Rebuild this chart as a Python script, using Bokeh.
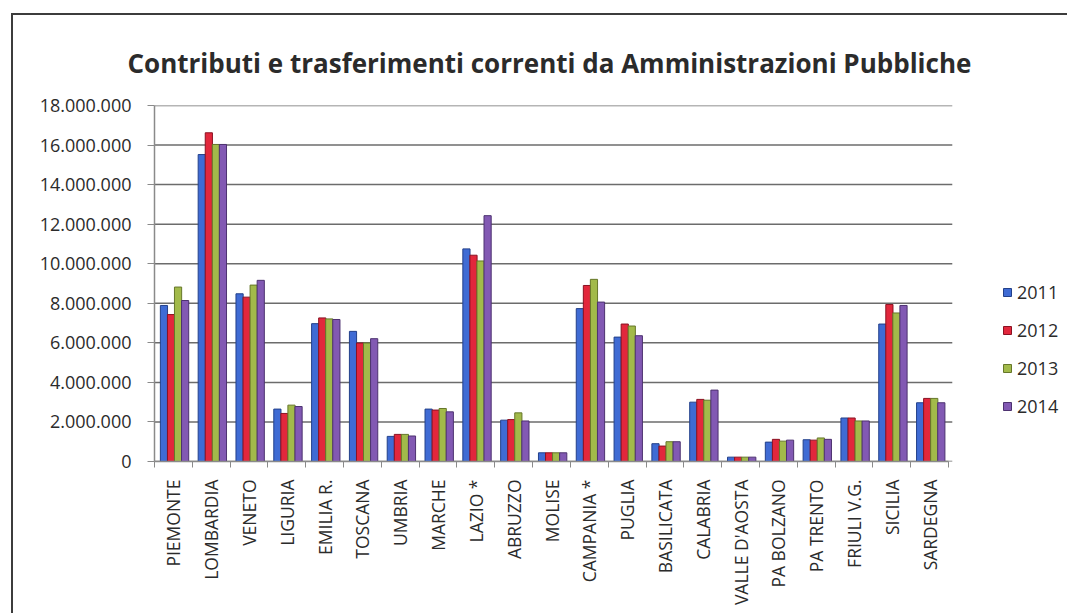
import math
from bokeh.plotting import figure
from bokeh.models import Range1d, FixedTicker, Legend, LegendItem, ColumnDataSource
from bokeh.embed import file_html
from bokeh.resources import INLINE

regions = ["PIEMONTE", "LOMBARDIA", "VENETO", "LIGURIA", "EMILIA R.", "TOSCANA",
           "UMBRIA", "MARCHE", "LAZIO *", "ABRUZZO", "MOLISE", "CAMPANIA *", "PUGLIA",
           "BASILICATA", "CALABRIA", "VALLE D'AOSTA", "PA BOLZANO", "PA TRENTO",
           "FRIULI V.G.", "SICILIA", "SARDEGNA"]
years = ["2011", "2012", "2013", "2014"]
v2011 = [7890000, 15520000, 8480000, 2650000, 6970000, 6580000, 1270000, 2650000, 10750000,
         2090000, 440000, 7730000, 6290000, 900000, 3000000, 220000, 980000, 1100000,
         2200000, 6950000, 2970000]
v2012 = [7430000, 16620000, 8310000, 2430000, 7260000, 5990000, 1370000, 2600000, 10430000,
         2120000, 440000, 8900000, 6950000, 780000, 3140000, 220000, 1120000, 1080000,
         2200000, 7940000, 3190000]
v2013 = [8820000, 16030000, 8920000, 2850000, 7210000, 5990000, 1370000, 2680000, 10140000,
         2460000, 440000, 9210000, 6850000, 1000000, 3100000, 220000, 1030000, 1190000,
         2050000, 7510000, 3190000]
v2014 = [8140000, 16030000, 9160000, 2780000, 7180000, 6210000, 1290000, 2510000, 12430000,
         2050000, 440000, 8060000, 6360000, 1000000, 3610000, 220000, 1080000, 1120000,
         2050000, 7890000, 2970000]
series = [v2011, v2012, v2013, v2014]
y_ticks = [0, 2000000, 4000000, 6000000, 8000000, 10000000, 12000000, 14000000, 16000000, 18000000]
y_tick_labels = ["0", "2.000.000", "4.000.000", "6.000.000", "8.000.000", "10.000.000",
                 "12.000.000", "14.000.000", "16.000.000", "18.000.000"]

colors = ["#3F6BD4", "#E2273C", "#A2BA4A", "#8259B3"]
edges = ["#23408a", "#8a1222", "#66772a", "#4d3270"]
FONT = "Open Sans"
n = len(regions)
pos = list(range(1, n + 1))

W, H = 1056, 600
BL, BT, BB, BR = 141, 90, 154, 0
frame_w = W - BL - BR
cat_px = 794.0 / n
x_end = 0.5 + frame_w / cat_px

p = figure(width=W, height=H,
           x_range=Range1d(0.5, x_end), y_range=Range1d(0, 18000000),
           output_backend="svg", toolbar_location=None,
           min_border_left=BL, min_border_right=BR, min_border_top=BT, min_border_bottom=BB,
           styles={"margin-left": "11px", "margin-top": "13px",
                   "border-left": "2px solid #3c3c3c", "border-top": "2px solid #3c3c3c"})

p.title.text = "Contributi e trasferimenti correnti da Amministrazioni Pubbliche"
p.title.text_font = FONT
p.title.text_font_size = "26px"
p.title.text_font_style = "bold"
p.title.text_color = "#2b2b2b"
p.title.align = "left"
p.title.vertical_align = "top"
p.title.offset = -27
p.title.standoff = 45

# horizontal gridlines over the category area
p.segment(x0=[0.5] * len(y_ticks), x1=[n + 0.6] * len(y_ticks), y0=y_ticks, y1=y_ticks,
          line_color="#6c6c6c", line_width=1.5)

bw = 0.19
offsets = [-0.28, -0.093, 0.093, 0.28]
renderers = []
for k, (yr, vals) in enumerate(zip(years, series)):
    src = ColumnDataSource(dict(x=[q + offsets[k] + 0.03 for q in pos], top=vals))
    r = p.vbar(x="x", top="top", width=bw, source=src, fill_color=colors[k],
               line_color=edges[k], line_width=1)
    renderers.append(r)

p.outline_line_color = None
p.xgrid.visible = False
p.ygrid.visible = False

ya = p.yaxis[0]
ya.ticker = FixedTicker(ticks=y_ticks, minor_ticks=[])
ya.major_label_overrides = {t: l for t, l in zip(y_ticks, y_tick_labels)}
ya.major_label_text_font = FONT
ya.major_label_text_font_size = "18px"
ya.major_label_text_color = "#2b2b2b"
ya.major_tick_out = 7
ya.major_tick_in = 0
ya.major_label_standoff = 16
ya.axis_line_color = "#8a8a8a"
ya.major_tick_line_color = "#8a8a8a"
ya.axis_line_width = 1.5

xa = p.xaxis[0]
xa.bounds = (0.5, n + 0.5)
xa.ticker = FixedTicker(ticks=pos, minor_ticks=[q + 0.5 for q in range(n + 1)])
xa.major_label_overrides = {q: r for q, r in zip(pos, regions)}
xa.major_label_orientation = math.pi / 2
xa.major_label_text_font = FONT
xa.major_label_text_font_size = "17.5px"
xa.major_label_text_color = "#2b2b2b"
xa.major_tick_line_color = None
xa.major_tick_out = 0
xa.major_tick_in = 0
xa.minor_tick_out = 6
xa.minor_tick_in = 0
xa.minor_tick_line_color = "#8a8a8a"
xa.major_label_standoff = 12
xa.axis_line_color = "#8a8a8a"
xa.axis_line_width = 1.5

legend = Legend(items=[LegendItem(label=y, renderers=[r]) for y, r in zip(years, renderers)],
                location=(848, 43), orientation="vertical")
legend.label_text_font = FONT
legend.label_text_font_size = "18px"
legend.label_text_color = "#2b2b2b"
legend.glyph_width = 10
legend.glyph_height = 10
legend.label_standoff = 5
legend.spacing = 14
legend.padding = 0
legend.margin = 0
legend.border_line_color = None
legend.background_fill_alpha = 0
p.add_layout(legend, "center")

open("out.html", "w").write(file_html(p, INLINE))
